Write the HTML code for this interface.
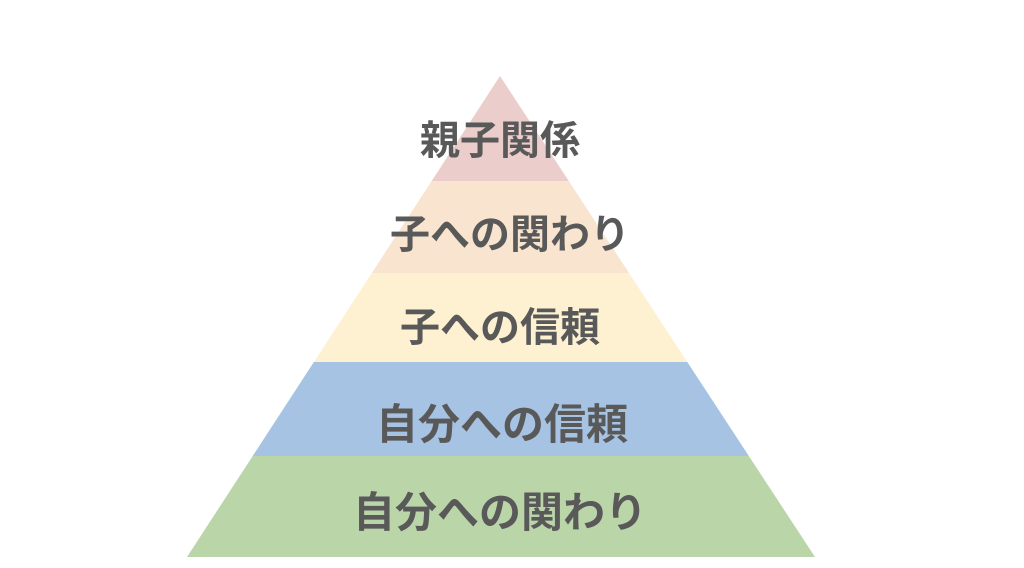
<!DOCTYPE html>
<html><head><meta charset="utf-8"><style>
html,body{margin:0;padding:0;background:#fff;}
</style></head><body>
<svg width="1024" height="563" viewBox="0 0 1024 563" xmlns="http://www.w3.org/2000/svg">
<defs><clipPath id="c"><polygon points="500,76 815,557 187,557"/></clipPath></defs>
<g clip-path="url(#c)">
<rect x="0" y="70" width="1024" height="111" fill="#ebcdcb"/>
<rect x="0" y="181" width="1024" height="92" fill="#f8e4cf"/>
<rect x="0" y="273" width="1024" height="89" fill="#fdf1d1"/>
<rect x="0" y="362" width="1024" height="94" fill="#a6c3e3"/>
<rect x="0" y="456" width="1024" height="102" fill="#bad5a8"/>
</g>
<g font-family="'Liberation Sans','Noto Sans CJK JP',sans-serif" font-weight="bold" fill="#595959" text-anchor="middle">
<text x="500" y="154" font-size="40">親子関係</text>
<text x="510" y="248" font-size="40">子への関わり</text>
<text x="500" y="341" font-size="40">子への信頼</text>
<text x="502" y="439" font-size="42">自分への信頼</text>
<text x="500" y="527" font-size="42">自分への関わり</text>
</g>
</svg>
</body></html>
